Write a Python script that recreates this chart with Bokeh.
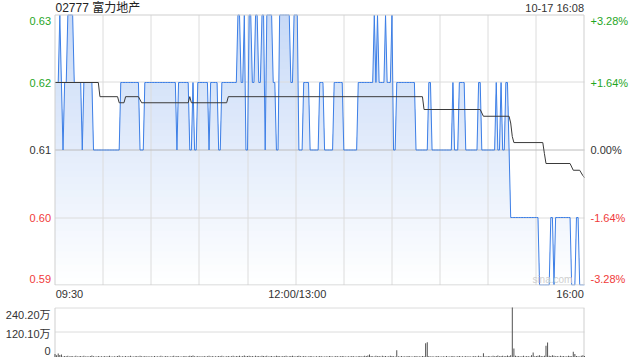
import math
from bokeh.plotting import figure
from bokeh.models import Range1d, FixedTicker
from bokeh.layouts import column
from bokeh.embed import file_html
from bokeh.resources import INLINE
from bokeh.core.properties import value

FONT = "Liberation Sans, Noto Sans CJK SC"

# ---------------- data ----------------
title_text = "02777 富力地产"
time_text = "10-17 16:08"
prev_close = 0.61

y_ticks = [0.63, 0.62, 0.61, 0.60, 0.59]
y_tick_labels = ["0.63", "0.62", "0.61", "0.60", "0.59"]
pct_tick_labels = ["+3.28%", "+1.64%", "0.00%", "-1.64%", "-3.28%"]
x_tick_labels = ["09:30", "12:00/13:00", "16:00"]
vol_ticks = [240.2, 120.1, 0]
vol_tick_labels = ["240.20万", "120.10万", "0"]

# minute index (0 = 09:30, 150 = 12:00/13:00, 330 = 16:00) at which price changes
price_change_minute = [0, 3, 4, 5, 6, 8, 12, 17, 18, 24,
                       41, 53, 56, 76, 77, 84, 86, 87, 89, 96,
                       97, 102, 104, 114, 116, 118, 119, 121, 123, 125,
                       127, 129, 131, 132, 136, 138, 140, 147, 149, 152,
                       155, 159, 165, 168, 174, 180, 189, 199, 200, 201,
                       202, 206, 207, 210, 211, 213, 225, 233, 235, 248,
                       249, 252, 256, 264, 266, 275, 276, 278, 279, 281,
                       283, 284, 302, 309, 311, 312, 322, 325, 327]
price_change_level = [0.62, 0.63, 0.62, 0.61, 0.62, 0.63, 0.62, 0.61, 0.62, 0.61,
                      0.62, 0.61, 0.62, 0.61, 0.62, 0.61, 0.62, 0.61, 0.62, 0.61,
                      0.62, 0.61, 0.62, 0.63, 0.62, 0.63, 0.61, 0.63, 0.62, 0.63,
                      0.62, 0.63, 0.61, 0.63, 0.62, 0.61, 0.63, 0.62, 0.63, 0.61,
                      0.62, 0.61, 0.62, 0.61, 0.62, 0.61, 0.62, 0.63, 0.62, 0.63,
                      0.62, 0.63, 0.62, 0.63, 0.61, 0.62, 0.61, 0.62, 0.61, 0.62,
                      0.61, 0.62, 0.61, 0.62, 0.61, 0.62, 0.61, 0.62, 0.61, 0.62,
                      0.61, 0.60, 0.59, 0.60, 0.59, 0.60, 0.59, 0.60, 0.59]

avg_minute = [0, 27, 28, 39, 40, 43, 44, 52, 54, 83,
              84, 85, 107, 108, 229, 230, 265, 267, 283, 284,
              285, 286, 304, 305, 306, 321, 323, 327, 329, 330]
avg_value = [0.6200, 0.6200, 0.6179, 0.6179, 0.6170, 0.6170, 0.6179, 0.6179, 0.6170, 0.6170,
             0.6179, 0.6170, 0.6170, 0.6179, 0.6179, 0.6160, 0.6160, 0.6150, 0.6150, 0.6140,
             0.6120, 0.6111, 0.6111, 0.6095, 0.6080, 0.6080, 0.6070, 0.6070, 0.6062, 0.6059]

# volume per minute, in 万 shares
volume = [
    15, 8, 17, 10, 12, 3, 5, 4, 6, 3, 5, 4, 2, 6, 3, 4, 5, 3, 6, 2, 4, 3, 5, 7, 4, 3, 2, 5, 3, 4,
    3, 5, 2, 4, 6, 3, 2, 4, 3, 5, 7, 3, 4, 2, 5, 3, 4, 6, 3, 2, 4, 5, 3, 6, 4, 3, 5, 2, 4, 3,
    4, 2, 5, 3, 4, 3, 6, 2, 3, 5, 4, 3, 2, 4, 6, 3, 5, 4, 3, 2, 4, 5, 3, 4, 6, 5, 7, 4, 3, 5,
    3, 4, 2, 5, 3, 4, 6, 3, 5, 2, 4, 3, 5, 4, 6, 3, 2, 4, 5, 3, 4, 6, 3, 5, 4, 6, 3, 5, 7, 4,
    5, 6, 4, 5, 3, 6, 4, 5, 3, 6, 5, 4, 6, 3, 4, 5, 3, 4, 6, 5, 4, 3, 5, 4, 6, 3, 4, 5, 6, 4,
    3, 5, 6, 4, 3, 5, 4, 2, 3, 5, 4, 3, 2, 4, 3, 5, 4, 3, 2, 4, 3, 5, 4, 3, 2, 5, 4, 3, 4, 5,
    4, 3, 2, 4, 3, 5, 4, 3, 2, 4, 5, 3, 4, 6, 5, 7, 12, 5, 4, 3, 6, 4, 5, 3, 6, 4, 5, 3, 4, 6,
    5, 4, 3, 33, 4, 3, 5, 2, 4, 3, 5, 4, 3, 2, 4, 5, 3, 4, 2, 5, 4, 67, 72, 5, 3, 4, 2, 3, 5, 4,
    3, 2, 4, 3, 5, 2, 3, 4, 5, 3, 2, 4, 5, 3, 4, 2, 5, 3, 4, 2, 3, 5, 4, 3, 6, 4, 3, 18, 4, 3,
    5, 4, 3, 6, 4, 5, 7, 4, 5, 6, 4, 5, 7, 5, 8, 240.2, 41, 6, 4, 5, 3, 4, 6, 3, 5, 4, 3, 8, 22, 4,
    5, 6, 8, 5, 4, 6, 54, 70, 6, 5, 8, 6, 4, 5, 3, 6, 4, 5, 3, 4, 6, 5, 4, 25, 15, 5, 4, 3, 6, 8,
    5,
]

N_MIN = 331
minutes = list(range(N_MIN))
price = []
for i, start in enumerate(price_change_minute):
    end = price_change_minute[i + 1] if i + 1 < len(price_change_minute) else N_MIN
    price += [price_change_level[i]] * (end - start)

GREEN = "#1fa61f"
RED = "#f03a3a"
DARK = "#333333"
GRID = "#dcdcdc"
label_colors = [GREEN, GREEN, DARK, RED, RED]

# ---------------- layout geometry (pixels) ----------------
W = 640
CH_LEFT, CH_RIGHT = 54.5, 584.0          # chart area left/right in canvas px
PX_MIN = (CH_RIGHT - CH_LEFT) / 330.0    # px per minute
P_TOP_PX, P_BOT_PX = 14.5, 284.5         # 0.63 / 0.59 in canvas px
FRAME_H = 285
PX_PRICE = (P_BOT_PX - P_TOP_PX) / 0.04  # px per price unit

x_start = -CH_LEFT / PX_MIN
x_rng = Range1d(x_start, 330 + (W - CH_RIGHT) / PX_MIN)
y_top = 0.63 + P_TOP_PX / PX_PRICE
y_rng = Range1d(y_top - FRAME_H / PX_PRICE, y_top)


def to_sx(m):
    return (m - x_start) * PX_MIN


def from_sx(px):
    return px / PX_MIN + x_start


def to_sy(pr):
    return (y_top - pr) * PX_PRICE


def from_sy(py):
    return y_top - py / PX_PRICE


# ---------------- price chart ----------------
p = figure(frame_width=W, frame_height=FRAME_H, x_range=x_rng, y_range=y_rng,
           output_backend="svg", toolbar_location=None, y_axis_location=None,
           min_border_left=0, min_border_right=0, min_border_top=0, min_border_bottom=15)
p.outline_line_color = None
p.background_fill_color = "white"
p.border_fill_color = "white"
p.xgrid.visible = False
p.ygrid.visible = False

ax = p.xaxis[0]
ax.ticker = FixedTicker(ticks=[9, 151, 321])
ax.major_label_overrides = {9: x_tick_labels[0], 151: x_tick_labels[1], 321: x_tick_labels[2]}
ax.axis_line_color = None
ax.major_tick_line_color = None
ax.minor_tick_line_color = None
ax.major_tick_out = 0
ax.major_tick_in = 0
ax.major_label_standoff = 2
ax.major_label_text_font = FONT
ax.major_label_text_font_size = "11px"
ax.major_label_text_color = DARK

# gradient fill under the price line (stacked layers, darker at the top)
N_LAYERS = 40
top_rgb = (200, 218, 247)
bot_rgb = (255, 255, 255)
for k in range(N_LAYERS):
    lev = 0.63 - k * (0.04 / N_LAYERS)
    t = (k + 0.5) / N_LAYERS
    col = "#%02x%02x%02x" % tuple(int(round(a + (b - a) * t)) for a, b in zip(top_rgb, bot_rgb))
    y2 = [min(v, lev) for v in price]
    p.varea(x=minutes, y1=0.59, y2=y2, fill_color=col)

# light guide lines inside the chart area, snapped to pixel centres
vgrid = list(range(30, 330, 30))
gx = [from_sx(math.floor(to_sx(m)) + 0.5) for m in vgrid]
p.multi_line(xs=[[x, x] for x in gx], ys=[[0.59, 0.63] for _ in gx],
             line_color=GRID, line_width=1)
gy = [from_sy(math.floor(to_sy(lv)) + 0.5) for lv in [0.60, 0.62]]
p.multi_line(xs=[[0, 330] for _ in gy], ys=[[y, y] for y in gy],
             line_color=GRID, line_width=1)
pc_y = from_sy(math.floor(to_sy(prev_close)) + 0.5)
p.line(x=[0, 330], y=[pc_y, pc_y], line_color="#bcbcbc", line_width=1)

p.line(minutes, price, line_color="#3d7fe6", line_width=1)
p.line(avg_minute, avg_value, line_color="#3a3a3a", line_width=1)

# chart border
p.quad(left=[0], right=[from_sx(583.5)], bottom=[0.59], top=[0.63], fill_color=None,
       line_color="#cfcfcf", line_width=1)

# price / percent labels (top and bottom nudged inward like the original)
label_y = [0.63 - 5.5 / PX_PRICE, 0.62, 0.61, 0.60, 0.59 + 6.5 / PX_PRICE]
p.text(x=[0] * 5, y=label_y, text=y_tick_labels, text_color=label_colors,
       text_align="right", text_baseline="middle", text_font=value(FONT),
       text_font_size="11px", x_offset=-4)
p.text(x=[330] * 5, y=label_y, text=pct_tick_labels, text_color=label_colors,
       text_align="left", text_baseline="middle", text_font=value(FONT),
       text_font_size="11px", x_offset=6)

head_y = y_top - 7 / PX_PRICE
p.text(x=[0], y=[head_y], text=[title_text], text_color="#222222", text_align="left",
       text_baseline="middle", text_font=value(FONT), text_font_size="12px", x_offset=0.5)
p.text(x=[330], y=[head_y], text=[time_text], text_color=DARK, text_align="right",
       text_baseline="middle", text_font=value(FONT), text_font_size="11px", x_offset=-0.5)
p.text(x=[310], y=[0.59 + 5.5 / PX_PRICE], text=["sina.com"], text_color="#cfcfcf",
       text_align="center", text_baseline="middle", text_font=value(FONT),
       text_font_size="10px")

# ---------------- volume chart ----------------
VH = 58
V_TOP_PX, V_BOT_PX = 5.0, 54.5           # 240.2 / 0 in volume canvas px
PX_VOL = (V_BOT_PX - V_TOP_PX) / 240.2
v_top = 240.2 + V_TOP_PX / PX_VOL
v_rng = Range1d(-(VH - V_BOT_PX) / PX_VOL, v_top)


def vol_from_sy(py):
    return v_top - py / PX_VOL


def vol_to_sy(val):
    return (v_top - val) * PX_VOL


v = figure(frame_width=W, frame_height=VH, x_range=x_rng, y_range=v_rng,
           output_backend="svg", toolbar_location=None, x_axis_location=None,
           y_axis_location=None, min_border_left=0, min_border_right=0,
           min_border_top=0, min_border_bottom=0)
v.outline_line_color = None
v.background_fill_color = "white"
v.border_fill_color = "white"
v.xgrid.visible = False
v.ygrid.visible = False

vgy = [vol_from_sy(math.floor(vol_to_sy(t)) + 0.5) for t in [120.1, 240.2]]
v.multi_line(xs=[[0, 330] for _ in vgy], ys=[[y, y] for y in vgy],
             line_color=GRID, line_width=1)
v.multi_line(xs=[[0, 0], [from_sx(583.5), from_sx(583.5)]],
             ys=[[0, vgy[1]], [0, vgy[1]]], line_color="#cfcfcf", line_width=1)

v.vbar(x=list(range(len(volume))), top=volume, width=0.6, fill_color="#4a4a4a",
       line_color=None)

vol_label_y = [240.2 - 7 / PX_VOL, 120.1 - 2 / PX_VOL, 6 / PX_VOL]
v.text(x=[0] * 3, y=vol_label_y, text=vol_tick_labels, text_color=DARK,
       text_align="right", text_baseline="middle", text_font=value(FONT),
       text_font_size="11px", x_offset=-4.5)

layout = column(p, v)
open("out.html", "w").write(file_html(layout, INLINE))
